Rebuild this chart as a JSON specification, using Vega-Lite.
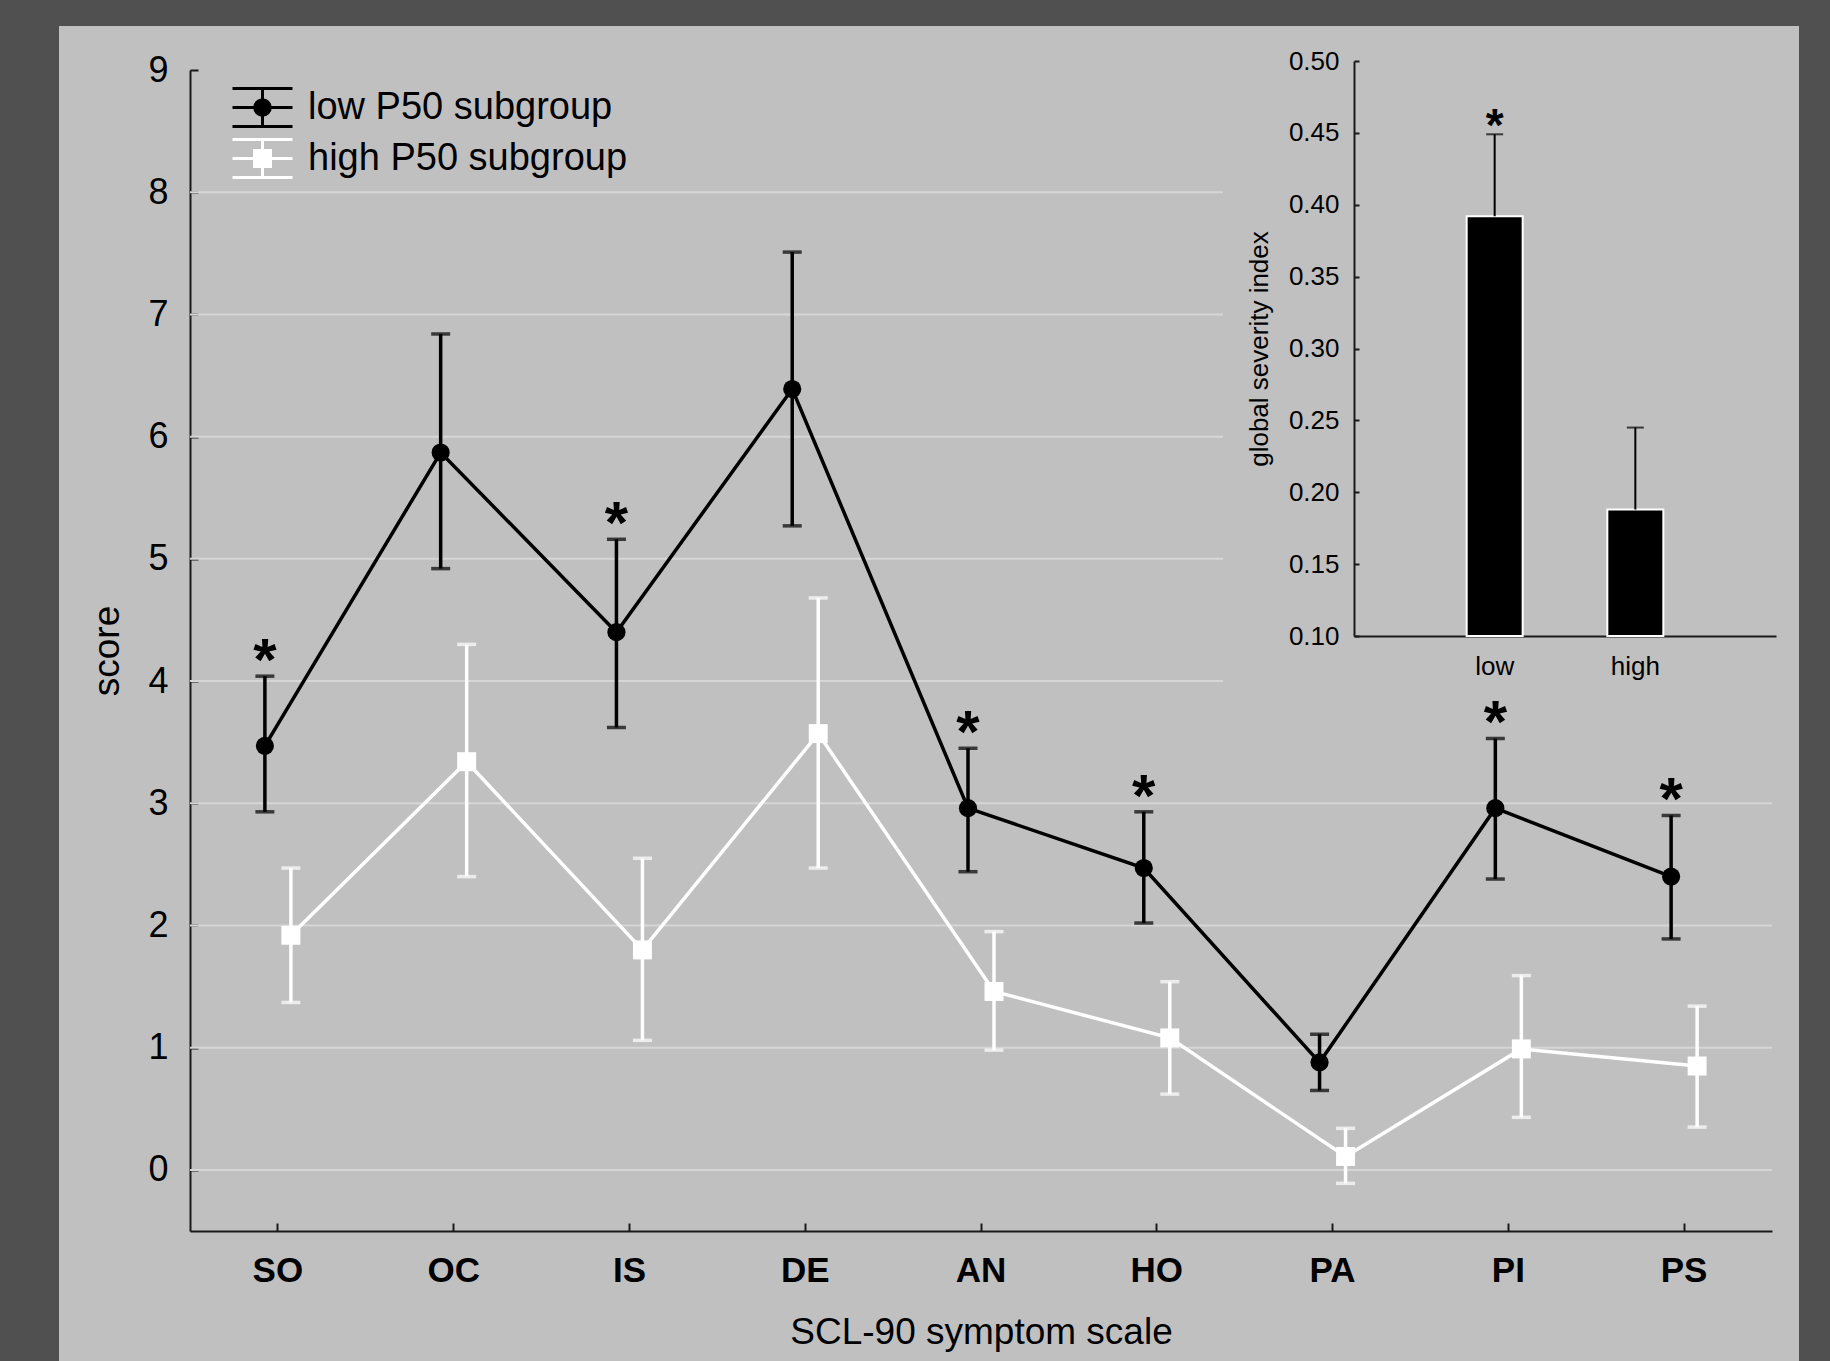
{
  "$schema": "https://vega.github.io/schema/vega-lite/v6.json",
  "width": 1740,
  "height": 1335,
  "autosize": {"type": "none"},
  "padding": {"left": 59, "top": 26, "right": 31, "bottom": 0},
  "background": "#505050",
  "config": {
    "font": "Liberation Sans",
    "view": {"fill": "#c0c0c0", "stroke": null},
    "axis": {"domainColor": "#1a1a1a", "domainWidth": 2, "tickColor": "#1a1a1a", "tickWidth": 2, "labelColor": "#000000", "titleColor": "#000000", "grid": false, "titleFontWeight": "normal"}
  },
  "datasets": {
    "scores": [
      {"scale": "SO", "group": "low", "mean": 3.47, "lo": 2.93, "hi": 4.04, "sig": true},
      {"scale": "OC", "group": "low", "mean": 5.87, "lo": 4.92, "hi": 6.84, "sig": false},
      {"scale": "IS", "group": "low", "mean": 4.40, "lo": 3.62, "hi": 5.16, "sig": true},
      {"scale": "DE", "group": "low", "mean": 6.39, "lo": 5.27, "hi": 7.51, "sig": false},
      {"scale": "AN", "group": "low", "mean": 2.96, "lo": 2.44, "hi": 3.45, "sig": true},
      {"scale": "HO", "group": "low", "mean": 2.47, "lo": 2.02, "hi": 2.93, "sig": true},
      {"scale": "PA", "group": "low", "mean": 0.88, "lo": 0.65, "hi": 1.11, "sig": false},
      {"scale": "PI", "group": "low", "mean": 2.96, "lo": 2.38, "hi": 3.53, "sig": true},
      {"scale": "PS", "group": "low", "mean": 2.40, "lo": 1.89, "hi": 2.90, "sig": true},
      {"scale": "SO", "group": "high", "mean": 1.92, "lo": 1.37, "hi": 2.47, "sig": false},
      {"scale": "OC", "group": "high", "mean": 3.34, "lo": 2.40, "hi": 4.30, "sig": false},
      {"scale": "IS", "group": "high", "mean": 1.80, "lo": 1.06, "hi": 2.55, "sig": false},
      {"scale": "DE", "group": "high", "mean": 3.57, "lo": 2.47, "hi": 4.68, "sig": false},
      {"scale": "AN", "group": "high", "mean": 1.46, "lo": 0.98, "hi": 1.95, "sig": false},
      {"scale": "HO", "group": "high", "mean": 1.08, "lo": 0.62, "hi": 1.54, "sig": false},
      {"scale": "PA", "group": "high", "mean": 0.11, "lo": -0.11, "hi": 0.34, "sig": false},
      {"scale": "PI", "group": "high", "mean": 0.99, "lo": 0.43, "hi": 1.59, "sig": false},
      {"scale": "PS", "group": "high", "mean": 0.85, "lo": 0.35, "hi": 1.34, "sig": false}
    ],
    "gsi": [
      {"grp": "low", "gsi": 0.392, "hi": 0.449, "sig": true},
      {"grp": "high", "gsi": 0.188, "hi": 0.245, "sig": false}
    ],
    "gridFull": [{"v": 0}, {"v": 1}, {"v": 2}, {"v": 3}],
    "gridPart": [{"v": 4}, {"v": 5}, {"v": 6}, {"v": 7}, {"v": 8}]
  },
  "layer": [
    {
      "data": {"name": "scores"},
      "encoding": {
        "x": {
          "field": "scale", "type": "nominal",
          "sort": ["SO", "OC", "IS", "DE", "AN", "HO", "PA", "PI", "PS"],
          "scale": {"domain": ["SO", "OC", "IS", "DE", "AN", "HO", "PA", "PI", "PS"], "range": [131, 1713], "paddingInner": 0, "paddingOuter": 0},
          "axis": {"orient": "bottom", "offset": -130, "title": "SCL-90 symptom scale", "titleFontSize": 37, "titlePadding": 26, "labelAngle": 0, "labelFontSize": 35, "labelFontWeight": "bold", "tickSize": -8, "labelPadding": 30}
        }
      },
      "layer": [
        {
          "data": {"name": "gridFull"},
          "mark": {"type": "rule", "color": "#d6d6d6", "strokeWidth": 2},
          "encoding": {
            "x": {"datum": "SO", "bandPosition": 0},
            "x2": {"datum": "PS", "bandPosition": 1},
            "y": {"field": "v", "type": "quantitative", "title": "score",
              "scale": {"domain": [-0.5, 9], "range": [1205, 44], "nice": false, "zero": false},
              "axis": {"orient": "left", "offset": -131, "values": [0, 1, 2, 3, 4, 5, 6, 7, 8, 9], "format": "d", "title": "score", "titleFontSize": 37, "titlePadding": 21, "labelFontSize": 36, "tickSize": -8, "labelPadding": 30}}
          }
        },
        {
          "data": {"name": "gridPart"},
          "mark": {"type": "rule", "color": "#d6d6d6", "strokeWidth": 2},
          "encoding": {
            "x": {"datum": "SO", "bandPosition": 0},
            "x2": {"datum": "HO", "bandPosition": 0.877},
            "y": {"field": "v", "type": "quantitative", "title": "score"}
          }
        },
        {
          "transform": [{"filter": "datum.group === 'low'"}],
          "mark": {"type": "rule", "color": "#000000", "strokeWidth": 3.5, "xOffset": -13},
          "encoding": {"y": {"field": "lo", "type": "quantitative", "title": "score"}, "y2": {"field": "hi"}}
        },
        {
          "transform": [{"filter": "datum.group === 'low'"}, {"fold": ["lo", "hi"], "as": ["k", "end"]}],
          "mark": {"type": "tick", "orient": "horizontal", "color": "#000000", "size": 19, "thickness": 3.5, "xOffset": -13},
          "encoding": {"y": {"field": "end", "type": "quantitative", "title": "score"}}
        },
        {
          "transform": [{"filter": "datum.group === 'low'"}],
          "mark": {"type": "line", "color": "#000000", "strokeWidth": 3.5, "xOffset": -13},
          "encoding": {"y": {"field": "mean", "type": "quantitative", "title": "score"}}
        },
        {
          "transform": [{"filter": "datum.group === 'high'"}],
          "mark": {"type": "rule", "color": "#ffffff", "strokeWidth": 3.5, "xOffset": 13},
          "encoding": {"y": {"field": "lo", "type": "quantitative", "title": "score"}, "y2": {"field": "hi"}}
        },
        {
          "transform": [{"filter": "datum.group === 'high'"}, {"fold": ["lo", "hi"], "as": ["k", "end"]}],
          "mark": {"type": "tick", "orient": "horizontal", "color": "#ffffff", "size": 19, "thickness": 3.5, "xOffset": 13},
          "encoding": {"y": {"field": "end", "type": "quantitative", "title": "score"}}
        },
        {
          "transform": [{"filter": "datum.group === 'high'"}],
          "mark": {"type": "line", "color": "#ffffff", "strokeWidth": 3.5, "xOffset": 13},
          "encoding": {"y": {"field": "mean", "type": "quantitative", "title": "score"}}
        },
        {
          "transform": [{"filter": "datum.group === 'low'"}],
          "mark": {"type": "point", "shape": "circle", "filled": true, "size": 330, "opacity": 1, "color": "#000000", "xOffset": -13},
          "encoding": {"y": {"field": "mean", "type": "quantitative", "title": "score"}}
        },
        {
          "transform": [{"filter": "datum.group === 'high'"}],
          "mark": {"type": "point", "shape": "square", "filled": true, "size": 360, "opacity": 1, "color": "#ffffff", "xOffset": 13},
          "encoding": {"y": {"field": "mean", "type": "quantitative", "title": "score"}}
        },
        {
          "transform": [{"filter": "false"}],
          "mark": {"type": "point", "filled": true, "opacity": 1, "strokeWidth": 3},
          "encoding": {
            "y": {"field": "mean", "type": "quantitative", "title": "score"},
            "fill": {"field": "group", "type": "nominal", "scale": {"domain": ["low", "high"], "range": ["#000000", "#ffffff"]},
              "legend": {
                "title": null, "orient": "none", "legendX": 182, "legendY": 60, "padding": 0,
                "labelExpr": "datum.value === 'low' ? 'low P50 subgroup' : 'high P50 subgroup'",
                "labelFontSize": 38, "labelColor": "#000000", "labelOffset": 24, "labelLimit": 0,
                "symbolSize": 1600, "symbolStrokeWidth": 3, "rowPadding": 0
              }},
            "stroke": {"field": "group", "type": "nominal", "scale": {"domain": ["low", "high"], "range": ["#000000", "#ffffff"]}},
            "shape": {"field": "group", "type": "nominal", "scale": {"domain": ["low", "high"], "range": [
              "M-1.5,-0.95H1.5M-1.5,0H1.5M-1.5,0.95H1.5M0,-0.95V0.95M0.39,0A0.39,0.39,0,1,1,-0.39,0A0.39,0.39,0,1,1,0.39,0Z",
              "M-1.5,-0.95H1.5M-1.5,0H1.5M-1.5,0.95H1.5M0,-0.95V0.95M-0.4,-0.4H0.4V0.4H-0.4Z"]}}
          }
        },
        {
          "transform": [{"filter": "datum.group === 'low' && datum.sig"}],
          "mark": {"type": "text", "text": "*", "fontSize": 60, "fontWeight": "bold", "color": "#000000", "baseline": "alphabetic", "dy": 4, "xOffset": -13},
          "encoding": {"y": {"field": "hi", "type": "quantitative", "title": "score"}}
        }
      ]
    },
    {
      "data": {"name": "gsi"},
      "encoding": {
        "x": {
          "field": "grp", "type": "nominal", "sort": ["low", "high"],
          "scale": {"domain": ["low", "high"], "range": [1295, 1717], "paddingInner": 0, "paddingOuter": 0.5},
          "axis": {"orient": "bottom", "offset": -725, "title": null, "labelAngle": 0, "labelFontSize": 26, "ticks": false, "labelPadding": 17}
        }
      },
      "layer": [
        {
          "mark": {"type": "bar", "color": "#000000", "stroke": "#ffffff", "strokeWidth": 2, "width": 56},
          "encoding": {
            "y": {"field": "gsi", "type": "quantitative", "title": "global severity index",
              "scale": {"domain": [0.1, 0.5], "range": [610, 35], "nice": false, "zero": false},
              "axis": {"orient": "left", "offset": -1295, "values": [0.1, 0.15, 0.2, 0.25, 0.3, 0.35, 0.4, 0.45, 0.5], "format": ".2f", "title": "global severity index", "titleFontSize": 26, "titlePadding": 16, "labelFontSize": 26, "tickSize": -5, "labelPadding": 20}},
            "y2": {"datum": 0.1}
          }
        },
        {
          "mark": {"type": "rule", "color": "#000000", "strokeWidth": 2},
          "encoding": {"y": {"field": "gsi", "type": "quantitative", "title": "global severity index"}, "y2": {"field": "hi"}}
        },
        {
          "mark": {"type": "tick", "orient": "horizontal", "color": "#000000", "size": 17, "thickness": 2},
          "encoding": {"y": {"field": "hi", "type": "quantitative", "title": "global severity index"}}
        },
        {
          "transform": [{"filter": "datum.sig"}],
          "mark": {"type": "text", "text": "*", "fontSize": 46, "fontWeight": "bold", "color": "#000000", "baseline": "alphabetic", "dy": 7},
          "encoding": {"y": {"field": "hi", "type": "quantitative", "title": "global severity index"}}
        }
      ]
    }
  ],
  "resolve": {"scale": {"x": "independent", "y": "independent"}, "axis": {"x": "independent", "y": "independent"}}
}
